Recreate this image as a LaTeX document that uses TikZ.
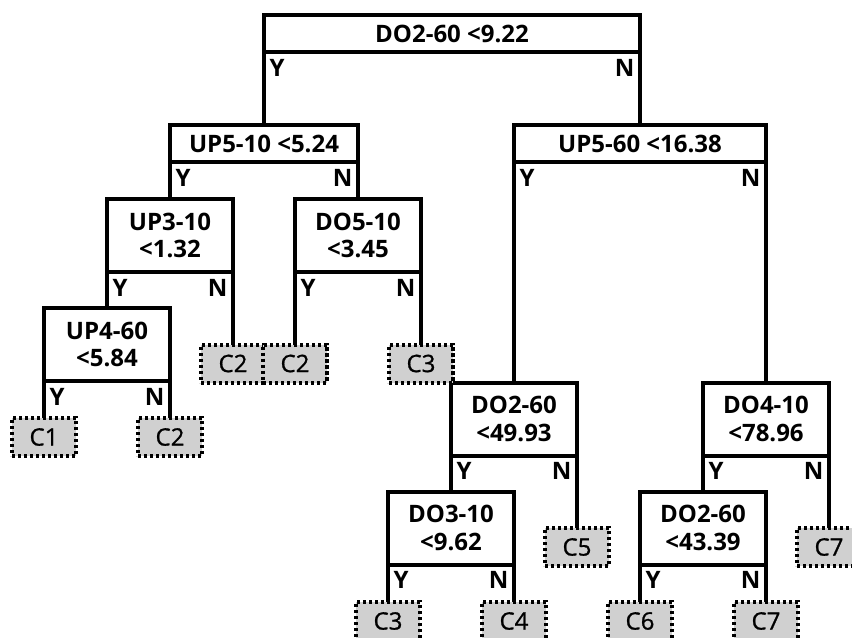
\documentclass[tikz,border=0pt]{standalone}
\usepackage{fontspec}
\setmainfont{Open Sans}
\newfontfamily\leaffont{Open Sans}[FakeBold=0.9]
\usetikzlibrary{positioning}
\definecolor{DtLeafGray}{RGB}{208,208,208}
\tikzset{
  dt/box/.style={
    draw=black,
    line width=3pt,
    fill=white,
    align=center,
    inner sep=0pt,
    outer sep=0pt,
    font=\bfseries\fontsize{18}{20.5}\selectfont
  },
  dt/wide/.style={dt/box, minimum height=27.75pt},
  dt/split/.style={dt/box, minimum width=94.5pt, minimum height=54.75pt},
  dt/leaf/.style={
    draw=black,
    line width=3pt,
    dash pattern=on 2.6pt off 1.9pt,
    fill=DtLeafGray,
    inner sep=0pt,
    outer sep=0pt,
    minimum width=48pt,
    minimum height=28.5pt,
    font=\leaffont\fontsize{18}{20.5}\selectfont
  },
  dt/line/.style={draw=black, line width=3pt},
  dt/yes/.style={inner sep=0pt, font=\bfseries\fontsize{18}{20}\selectfont},
  dt/no/.style={dt/yes}
}
\begin{document}
\begin{tikzpicture}[x=0.75pt,y=-0.75pt]
  \clip (0,0) rectangle (852,638);
  \useasboundingbox (0,0) rectangle (852,638);
  % decision nodes
  \node[dt/wide,minimum width=282pt] (root) at (452,33.5) {DO2-60 <9.22};
  \node[dt/wide,minimum width=141pt] (upfive) at (264,143.5) {UP5-10 <5.24};
  \node[dt/wide,minimum width=189pt] (upsixty) at (640,143.5) {UP5-60 <16.38};
  \node[dt/split] (upthree) at (170,235.5) {UP3-10\\<1.32};
  \node[dt/split] (dofive) at (358,235.5) {DO5-10\\<3.45};
  \node[dt/split] (upfour) at (107,344.5) {UP4-60\\<5.84};
  \node[dt/split] (dotwoA) at (514,419) {DO2-60\\<49.93};
  \node[dt/split] (dofour) at (766,419) {DO4-10\\<78.96};
  \node[dt/split] (dothree) at (451,528) {DO3-10\\<9.62};
  \node[dt/split] (dotwoB) at (703,528) {DO2-60\\<43.39};
  % leaves
  \node[dt/leaf] (leafA) at (44,437) {C1};
  \node[dt/leaf] (leafB) at (170,437) {C2};
  \node[dt/leaf] (leafC) at (233,363.5) {C2};
  \node[dt/leaf] (leafD) at (295,363.5) {C2};
  \node[dt/leaf] (leafE) at (421,363.5) {C3};
  \node[dt/leaf] (leafF) at (577,547) {C5};
  \node[dt/leaf] (leafG) at (829,547) {C7};
  \node[dt/leaf] (leafH) at (388,621) {C3};
  \node[dt/leaf] (leafI) at (514,621) {C4};
  \node[dt/leaf] (leafJ) at (640,621) {C6};
  \node[dt/leaf] (leafK) at (766,621) {C7};
  % branches
  \draw[dt/line] (root.south west) -- (upfive.north);
  \draw[dt/line] (root.south east) -- (upsixty.north);
  \draw[dt/line] (upfive.south west) -- (upthree.north);
  \draw[dt/line] (upfive.south east) -- (dofive.north);
  \draw[dt/line] (upthree.south west) -- (upfour.north);
  \draw[dt/line] (upthree.south east) -- (leafC.north);
  \draw[dt/line] (dofive.south west) -- (leafD.north);
  \draw[dt/line] (dofive.south east) -- (leafE.north);
  \draw[dt/line] (upfour.south west) -- (leafA.north);
  \draw[dt/line] (upfour.south east) -- (leafB.north);
  \draw[dt/line] (upsixty.south west) -- (dotwoA.north);
  \draw[dt/line] (upsixty.south east) -- (dofour.north);
  \draw[dt/line] (dotwoA.south west) -- (dothree.north);
  \draw[dt/line] (dotwoA.south east) -- (leafF.north);
  \draw[dt/line] (dofour.south west) -- (dotwoB.north);
  \draw[dt/line] (dofour.south east) -- (leafG.north);
  \draw[dt/line] (dothree.south west) -- (leafH.north);
  \draw[dt/line] (dothree.south east) -- (leafI.north);
  \draw[dt/line] (dotwoB.south west) -- (leafJ.north);
  \draw[dt/line] (dotwoB.south east) -- (leafK.north);
  % branch labels
  \foreach \n in {root,upfive,upsixty,upthree,dofive,upfour,dotwoA,dofour,dothree,dotwoB}{
    \node[dt/yes,below right=5pt and 4pt of \n.south west] (\n Y) {Y};
    \node[dt/no,below left=5pt and 4pt of \n.south east] (\n N) {N};
  }
\end{tikzpicture}
\end{document}
